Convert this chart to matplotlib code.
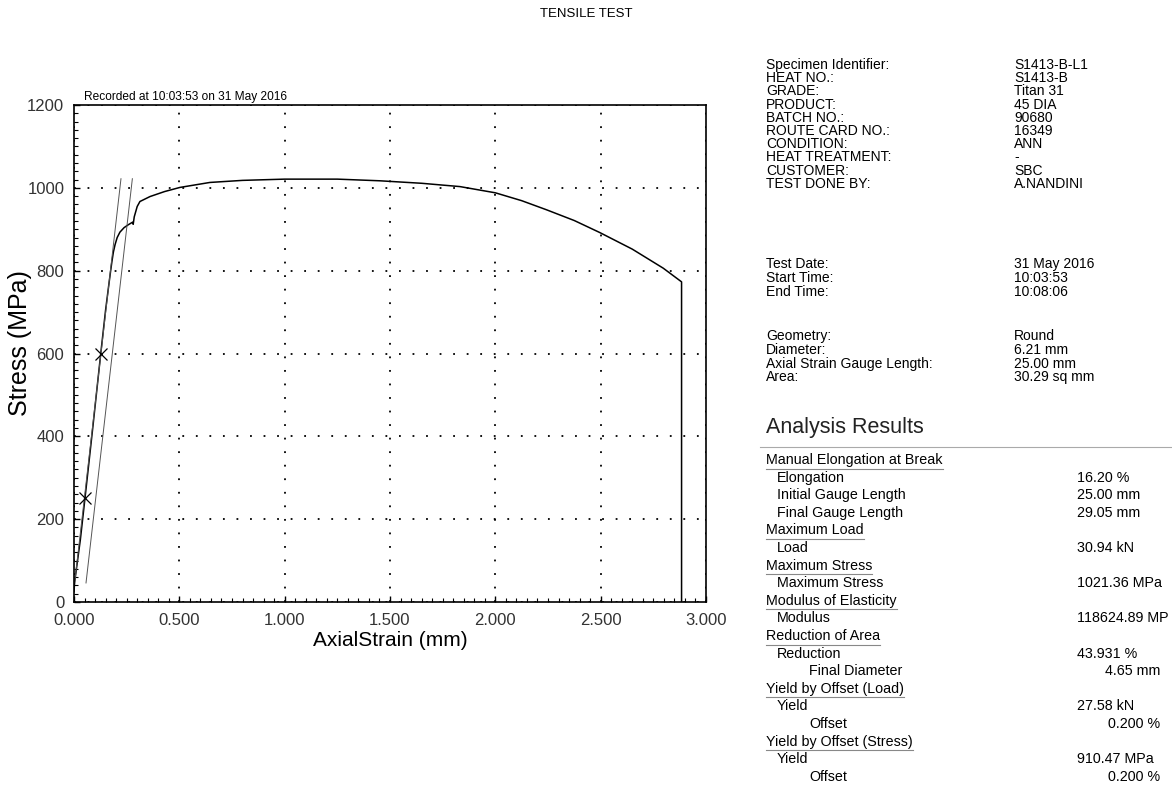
import numpy as np
import matplotlib
matplotlib.use('Agg')
import matplotlib.pyplot as plt
from matplotlib.ticker import MultipleLocator
from matplotlib.lines import Line2D

plt.rcParams['font.family'] = ['Liberation Sans', 'DejaVu Sans']

W, H = 1172, 787

# stress-strain curve read from the record
strain = [0.000, 0.003, 0.030, 0.052, 0.090, 0.127, 0.150, 0.165, 0.174, 0.180,
          0.187, 0.195, 0.205, 0.218, 0.238, 0.258, 0.278, 0.281, 0.286, 0.300,
          0.313, 0.361, 0.430, 0.503, 0.645, 0.800, 1.000, 1.250, 1.452, 1.650,
          1.832, 2.000, 2.125, 2.243, 2.375, 2.496, 2.650, 2.797, 2.884, 2.884]
stress = [25, 48, 150, 250, 425, 600, 705, 765, 800, 822,
          845, 863, 880, 893, 904, 911, 917, 912, 930, 955,
          967, 979, 991, 1001, 1013, 1018, 1021, 1021, 1017, 1011,
          1003, 988, 969, 947, 921, 892, 852, 806, 773, 0]

# points marked on the elastic part
mark_strain = [0.052, 0.127]
mark_stress = [250, 600]

# modulus line and 0.2 % offset line (ends)
fit_strain = [0.003, 0.223]
offset_strain = [0.057, 0.277]
fit_stress = [46, 1022]

x_ticks = [0.0, 0.5, 1.0, 1.5, 2.0, 2.5, 3.0]
x_ticklabels = ['0.000', '0.500', '1.000', '1.500', '2.000', '2.500', '3.000']
y_ticks = [0, 200, 400, 600, 800, 1000, 1200]

info_labels = ['Specimen Identifier:', 'HEAT NO.:', 'GRADE:', 'PRODUCT:', 'BATCH NO.:',
               'ROUTE CARD NO.:', 'CONDITION:', 'HEAT TREATMENT:', 'CUSTOMER:', 'TEST DONE BY:']
info_values = ['S1413-B-L1', 'S1413-B', 'Titan 31', '45 DIA', '90680',
               '16349', 'ANN', '-', 'SBC', 'A.NANDINI']
time_labels = ['Test Date:', 'Start Time:', 'End Time:']
time_values = ['31 May 2016', '10:03:53', '10:08:06']
geom_labels = ['Geometry:', 'Diameter:', 'Axial Strain Gauge Length:', 'Area:']
geom_values = ['Round', '6.21 mm', '25.00 mm', '30.29 sq mm']

# (text, indent level, value, right aligned value)
results = [
    ('Manual Elongation at Break', 0, '', False),
    ('Elongation', 1, '16.20 %', False),
    ('Initial Gauge Length', 1, '25.00 mm', False),
    ('Final Gauge Length', 1, '29.05 mm', False),
    ('Maximum Load', 0, '', False),
    ('Load', 1, '30.94 kN', False),
    ('Maximum Stress', 0, '', False),
    ('Maximum Stress', 1, '1021.36 MPa', False),
    ('Modulus of Elasticity', 0, '', False),
    ('Modulus', 1, '118624.89 MP', False),
    ('Reduction of Area', 0, '', False),
    ('Reduction', 1, '43.931 %', False),
    ('Final Diameter', 2, '4.65 mm', True),
    ('Yield by Offset (Load)', 0, '', False),
    ('Yield', 1, '27.58 kN', False),
    ('Offset', 2, '0.200 %', True),
    ('Yield by Offset (Stress)', 0, '', False),
    ('Yield', 1, '910.47 MPa', False),
    ('Offset', 2, '0.200 %', True),
]


def fx(px):
    return px / W


def fy(py):
    return 1 - py / H


fig = plt.figure(figsize=(W / 100, H / 100), dpi=100)
ax = fig.add_axes([fx(74), fy(602), fx(706) - fx(74), fy(105) - fy(602)])

ax.plot(strain, stress, color='black', lw=1.1)
ax.plot(fit_strain, fit_stress, color='#555555', lw=0.7)
ax.plot(offset_strain, fit_stress, color='#555555', lw=0.7)
ax.plot(mark_strain, mark_stress, 'x', color='black', ms=8, mew=0.9)

ax.set_xlim(0, 3.0)
ax.set_ylim(0, 1200)
ax.set_xticks(x_ticks)
ax.set_xticklabels(x_ticklabels)
ax.set_yticks(y_ticks)
ax.xaxis.set_minor_locator(MultipleLocator(0.05))
ax.yaxis.set_minor_locator(MultipleLocator(20))
ax.tick_params(which='both', direction='in', color='black', labelsize=12, labelcolor='#333333')
ax.tick_params(which='major', length=4, width=1)
ax.tick_params(which='minor', length=3, width=0.8)
ax.tick_params(axis='x', pad=8)
ax.tick_params(axis='y', pad=7)
ax.grid(True, which='major', color='black', linestyle=(0, (1, 6.5)), lw=1.3)
for s in ax.spines.values():
    s.set_linewidth(1.2)

ax.set_xlabel('AxialStrain (mm)', fontsize=15, labelpad=2)
ax.set_ylabel('Stress (MPa)', fontsize=18)
ax.yaxis.set_label_coords(-0.066, 0.52)
ax.text(0.016, 1.004, 'Recorded at 10:03:53 on 31 May 2016', transform=ax.transAxes,
        fontsize=8.6, va='bottom', ha='left')

fig.text(fx(586), fy(14), 'TENSILE TEST', fontsize=9.5, ha='center', va='center')

lab_x, val_x = 766, 1014
y0 = 65
step = 13.2
for i, (lab, val) in enumerate(zip(info_labels, info_values)):
    fig.text(fx(lab_x), fy(y0 + i * step), lab, fontsize=10, va='center')
    fig.text(fx(val_x), fy(y0 + i * step), val, fontsize=10, va='center')
for i, (lab, val) in enumerate(zip(time_labels, time_values)):
    fig.text(fx(lab_x), fy(264 + i * 14), lab, fontsize=10, va='center')
    fig.text(fx(val_x), fy(264 + i * 14), val, fontsize=10, va='center')
for i, (lab, val) in enumerate(zip(geom_labels, geom_values)):
    fig.text(fx(lab_x), fy(336 + i * 13.8), lab, fontsize=10, va='center')
    fig.text(fx(val_x), fy(336 + i * 13.8), val, fontsize=10, va='center')

fig.text(fx(766), fy(428), 'Analysis Results', fontsize=15.5, va='center', color='#222222')
fig.add_artist(Line2D([fx(760), fx(1172)], [fy(447), fy(447)], color='#aaaaaa', lw=0.8))

indents = [766, 777, 809]
fig.canvas.draw()
renderer = fig.canvas.get_renderer()
ry0 = 460
rstep = 17.6
for i, (lab, lvl, val, right) in enumerate(results):
    y = ry0 + i * rstep
    t = fig.text(fx(indents[lvl]), fy(y), lab, fontsize=10.3, va='center')
    if lvl == 0:
        bb = t.get_window_extent(renderer)
        fig.add_artist(Line2D([bb.x0 / W, bb.x1 / W], [fy(y + 8.5), fy(y + 8.5)],
                              color='#888888', lw=0.8))
    if val:
        if right:
            fig.text(fx(1160), fy(y), val, fontsize=10.3, va='center', ha='right')
        else:
            fig.text(fx(1077), fy(y), val, fontsize=10.3, va='center')

fig.savefig('out.png', dpi=100)
